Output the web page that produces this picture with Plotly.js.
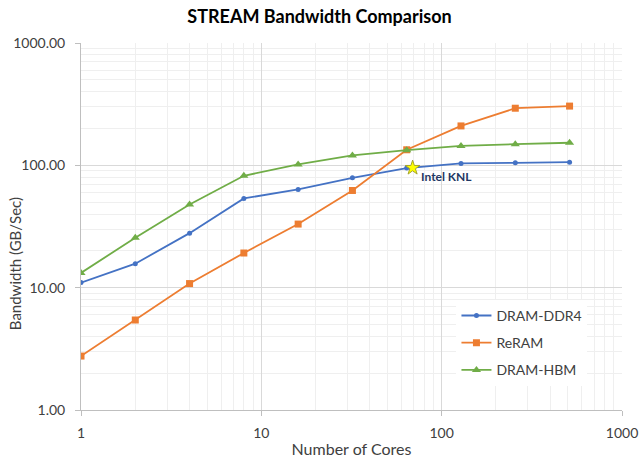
<!DOCTYPE html>
<html>
<head>
<meta charset="utf-8">
<script src="https://cdn.plot.ly/plotly-3.0.1.min.js"></script>
<style>
  html, body { margin: 0; padding: 0; background: #fff; }
  #chart { width: 639px; height: 461px; }
</style>
</head>
<body>
<div id="chart"></div>
<script>
// Core counts (log scale)
const cores = [1, 2, 4, 8, 16, 32, 64, 128, 256, 512];

// STREAM bandwidth in GB/s
const ddr4  = [11.0, 15.7, 27.9, 53.6, 63.5, 79.1, 94.9, 103.6, 104.9, 106.2];
const reram = [2.76, 5.44, 10.8, 19.2, 33.1, 62.3, 134, 210, 293, 305];
const hbm   = [13.2, 25.6, 47.9, 82.1, 101.7, 120.5, 133, 144, 149, 153];

// Reference point for Intel KNL
const knlCores = [69];
const knlBw = [95.4];
const knlLabel = 'Intel KNL';

const FONT = 'Lato, "Open Sans", "Liberation Sans", sans-serif';
const TEXT = '#404040';

function series(name, y, color, symbol, size, group) {
  return {
    x: cores, y: y, name: name, type: 'scatter', mode: 'lines+markers',
    legendgroup: group,
    line: { color: color, width: 1.8 },
    marker: { color: color, symbol: symbol, size: size }
  };
}

const traces = [
  series('DRAM-DDR4', ddr4, '#4472C4', 'circle', 5, 'a'),
  series('ReRAM', reram, '#ED7D31', 'square', 7, 'b'),
  series('DRAM-HBM', hbm, '#70AD47', 'triangle-up', 8, 'c'),
  {
    x: knlCores, y: knlBw, type: 'scatter', mode: 'markers',
    marker: { symbol: 'star', size: 11, color: '#FFFF00', line: { color: '#A5A52A', width: 1 } },
    showlegend: false, hoverinfo: 'skip'
  }
];

const layout = {
  width: 639, height: 461,
  margin: { l: 81, r: 17, t: 43, b: 51 },
  paper_bgcolor: '#fff', plot_bgcolor: '#fff',
  font: { family: FONT, size: 14, color: TEXT },
  title: {
    text: '<b>STREAM Bandwidth Comparison</b>',
    x: 0.5, xanchor: 'center', y: 0.963, yanchor: 'middle',
    font: { family: FONT, size: 18, color: '#000' }
  },
  showlegend: true,
  legend: {
    x: 0.694, y: 0.3, xanchor: 'left', yanchor: 'top',
    bgcolor: '#fff', traceorder: 'grouped', tracegroupgap: 6,
    font: { family: FONT, size: 14, color: TEXT }
  },
  annotations: [
    {
      x: Math.log10(knlCores[0]), y: Math.log10(knlBw[0]), xref: 'x', yref: 'y',
      text: '<b>' + knlLabel + '</b>', showarrow: false,
      xanchor: 'left', yanchor: 'middle', xshift: 6, yshift: -9,
      font: { family: FONT, size: 12, color: '#1F3864' }
    },
    {
      x: -0.122, y: 0.40, xref: 'paper', yref: 'paper',
      text: 'Bandwidth (GB/Sec)', showarrow: false, textangle: -90,
      xanchor: 'center', yanchor: 'middle',
      font: { family: FONT, size: 15, color: TEXT }
    }
  ],
  xaxis: {
    type: 'log', range: [0, 3],
    tickvals: [1, 10, 100, 1000], ticktext: ['1', '10', '100', '1000'],
    ticks: 'outside', ticklen: 5, tickcolor: '#bfbfbf', ticklabelstandoff: 5,
    showline: true, linecolor: '#bfbfbf', linewidth: 1,
    showgrid: true, gridcolor: '#d9d9d9', gridwidth: 1,
    zeroline: false,
    minor: { dtick: 'D1', showgrid: true, gridcolor: '#efefef', ticks: '' },
    tickfont: { family: FONT, size: 14, color: TEXT },
    title: { text: 'Number of Cores', standoff: 4, font: { family: FONT, size: 16, color: TEXT } }
  },
  yaxis: {
    type: 'log', range: [0, 3],
    tickvals: [1, 10, 100, 1000], ticktext: ['1.00', '10.00', '100.00', '1000.00'],
    ticks: 'outside', ticklen: 5, tickcolor: '#bfbfbf', ticklabelstandoff: 7,
    showline: true, linecolor: '#bfbfbf', linewidth: 1,
    showgrid: true, gridcolor: '#d9d9d9', gridwidth: 1,
    zeroline: false,
    minor: { dtick: 'D1', showgrid: true, gridcolor: '#efefef', ticks: '' },
    tickfont: { family: FONT, size: 14, color: TEXT }
  }
};

Plotly.newPlot('chart', traces, layout, { displayModeBar: false, staticPlot: true });
</script>
</body>
</html>
